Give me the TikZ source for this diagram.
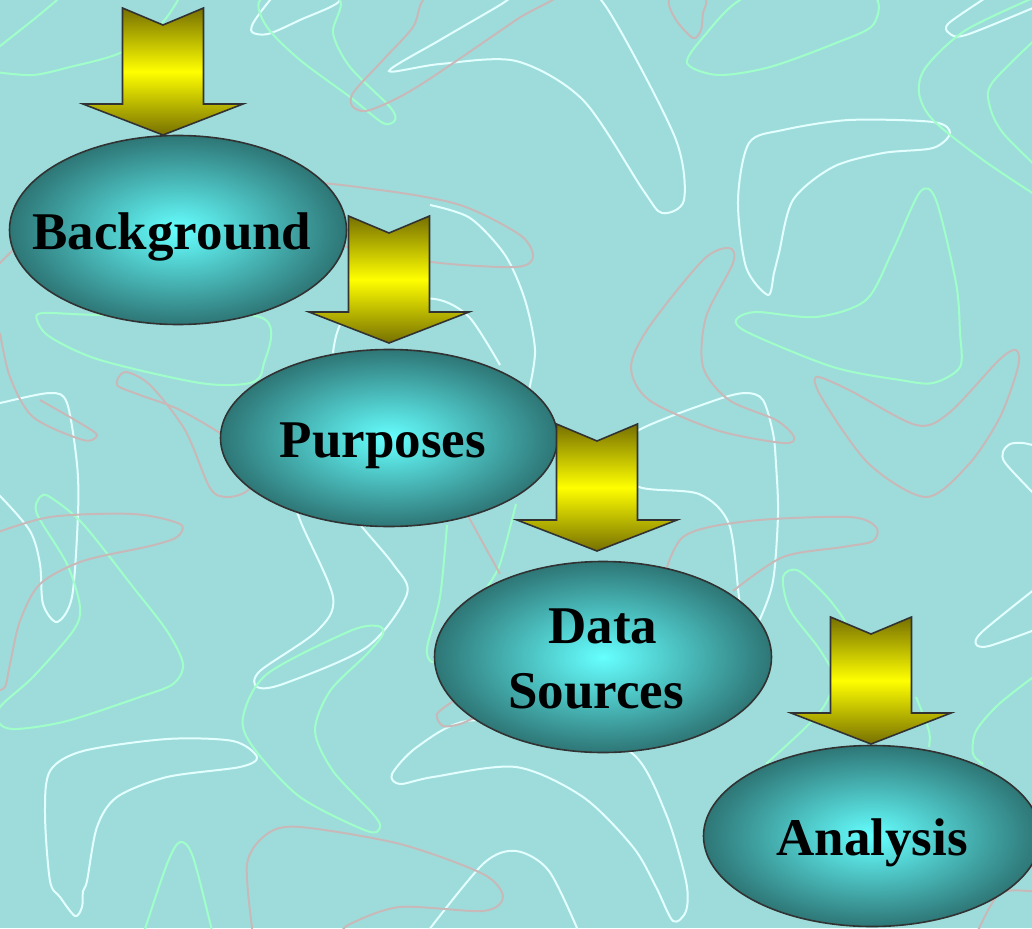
\documentclass[tikz,border=0pt]{standalone}
\usepackage{fontspec}
\setmainfont{Liberation Serif}
\usetikzlibrary{shapes.geometric}
\definecolor{bgc}{RGB}{158,220,220}
\definecolor{cyanc}{RGB}{102,255,255}
\definecolor{tealc}{RGB}{46,118,118}
\definecolor{olivec}{RGB}{118,112,0}
\definecolor{yelc}{RGB}{255,255,0}
\definecolor{wline}{RGB}{228,255,255}
\definecolor{gline}{RGB}{160,255,200}
\definecolor{pline}{RGB}{200,184,184}
\definecolor{edgec}{RGB}{50,50,50}
\begin{document}
\begin{tikzpicture}[x=1pt,y=-1pt,
  wl/.style={draw=wline,line width=2pt},
  gl/.style={draw=gline,line width=2pt},
  pl/.style={draw=pline,line width=2pt},
  stage/.style={ellipse, draw=edgec, line width=1.6pt, inner color=cyanc, outer color=tealc, inner sep=0pt},
  lbl/.style={font=\bfseries\fontsize{53}{65}\selectfont, anchor=base, inner sep=0pt},
  blockarrow/.pic={\draw[draw=edgec,line width=1.6pt,top color=olivec,bottom color=olivec,middle color=yelc]
     (-40.5,0) -- (0,17) -- (40.5,0) -- (40.5,96) -- (80,96) -- (0,127) -- (-80,96) -- (-40.5,96) -- cycle;}
]
\useasboundingbox (0,0) rectangle (1032,928);
\fill[bgc] (0,0) rectangle (1032,928);
\begin{scope}
\clip (0,0) rectangle (1032,928);
% white curves
\draw[wl] plot[smooth cycle] coordinates {(389,71) (440,64) (516,61) (583,100) (643,190) (662,213) (684,200) (676,140) (620,30) (590,-10) (540,-20) (500,5) (440,40)};
\draw[wl] plot[smooth cycle] coordinates {(280,-10) (255,20) (252,32) (268,34) (300,20) (340,0) (310,-20)};
\draw[wl] plot[smooth cycle] coordinates {(768,295) (746,267) (738,200) (749,143) (783,130) (849,120) (933,122) (950,133) (933,148) (883,153) (833,167) (793,200) (779,253) (774,273)};
\draw[wl] plot[smooth] coordinates {(990,-5) (949,23) (949,33) (966,35) (1040,5)};
\draw[wl] plot[smooth] coordinates {(-10,405) (0,403) (50,393) (67,403) (77,464) (78,514) (72,597) (57,622) (43,604) (40,564) (30,531) (0,496) (-10,490)};
\draw[wl] plot[smooth cycle] coordinates {(257,757) (240,767) (167,777) (117,797) (97,827) (87,881) (83,891) (82,907) (75,916) (60,897) (50,881) (45,814) (50,771) (83,751) (167,739) (233,741)};
\draw[wl] plot[smooth cycle] coordinates {(290,480) (300,520) (333,597) (317,631) (260,671) (257,687) (283,684) (367,647) (407,594) (393,564) (353,515) (340,480)};
\draw[wl] plot[smooth] coordinates {(425,935) (483,864) (516,851) (549,871) (580,935)};
\draw[wl] plot[smooth cycle] coordinates {(467,721) (417,747) (392,774) (400,784) (433,777) (516,767) (583,797) (633,847) (656,887) (673,921) (686,911) (686,881) (666,814) (633,754) (560,725)};
\draw[wl] plot[smooth cycle] coordinates {(639,430) (716,400) (746,393) (763,400) (773,433) (776,464) (778,514) (773,581) (759,621) (745,640) (739,597) (729,524) (699,494) (639,487) (610,460)};
\draw[wl] plot[smooth] coordinates {(1040,585) (983,631) (976,644) (989,646) (1040,628)};
\draw[wl] plot[smooth] coordinates {(1040,500) (1006,464) (1003,452) (1010,444) (1023,443) (1040,447)};
\draw[wl] plot[smooth] coordinates {(430,205) (470,218) (505,255) (525,300) (535,350) (529,390)};
\draw[wl] plot[smooth] coordinates {(333,353) (345,318) (400,300) (440,300) (470,318) (500,365)};
% green curves
\draw[gl] plot[smooth] coordinates {(-5,50) (33,20) (57,0) (65,-8)};
\draw[gl] plot[smooth] coordinates {(-5,72) (33,75) (70,67) (120,53) (160,25) (178,0)};
\draw[gl] plot[smooth cycle] coordinates {(260,0) (267,27) (300,60) (350,97) (383,123) (395,120) (390,107) (350,67) (333,33) (340,0) (300,-20)};
\draw[gl] plot[smooth cycle] coordinates {(687,63) (718,75) (770,67) (836,43) (873,25) (873,-5) (800,-20) (740,0) (705,35)};
\draw[gl] plot[smooth cycle] coordinates {(736,320) (756,312) (816,317) (866,300) (893,250) (920,192) (936,200) (956,283) (960,333) (960,367) (933,383) (900,380) (833,367) (749,333)};
\draw[gl] plot[smooth] coordinates {(1040,-5) (966,30) (926,67) (919,93) (933,120) (983,160) (1040,198)};
\draw[gl] plot[smooth] coordinates {(1040,35) (992,83) (990,107) (1003,133) (1040,170)};
\draw[gl] plot[smooth cycle] coordinates {(37,320) (43,313) (100,315) (260,317) (263,367) (250,383) (200,383) (100,360) (50,337)};
\draw[gl] plot[smooth cycle] coordinates {(40,497) (37,514) (67,564) (80,607) (73,631) (33,677) (0,707) (0,724) (17,729) (67,721) (140,697) (173,684) (183,664) (167,631) (133,587) (83,524) (50,497)};
\draw[gl] plot[smooth] coordinates {(143,935) (167,864) (180,842) (193,857) (213,935)};
\draw[gl] plot[smooth cycle] coordinates {(378,626) (350,631) (267,674) (243,717) (253,747) (300,797) (367,831) (380,827) (373,814) (333,771) (315,731) (330,691) (367,654) (383,634)};
\draw[gl] plot[smooth] coordinates {(447,525) (440,597) (427,648) (432,662) (445,655)};
\draw[gl] plot[smooth] coordinates {(516,504) (500,564) (487,587)};
\draw[gl] plot[smooth] coordinates {(766,764) (809,724) (829,697) (849,637) (833,604) (799,571) (783,577) (790,610) (820,650) (850,700)};
\draw[gl] plot[smooth] coordinates {(916,697) (929,731) (929,747)};
\draw[gl] plot[smooth] coordinates {(1040,672) (999,704) (976,731) (973,754) (983,764)};
% pink curves
\draw[pl] plot[smooth cycle] coordinates {(423,0) (413,27) (383,60) (353,93) (353,107) (370,110) (417,87) (516,20) (560,-10) (450,-20)};
\draw[pl] plot[smooth cycle] coordinates {(669,0) (676,20) (693,38) (701,30) (703,13) (706,0) (690,-10)};
\draw[pl] plot[smooth cycle] coordinates {(729,248) (703,260) (649,327) (631,367) (649,400) (716,430) (783,443) (794,437) (776,420) (729,400) (703,367) (706,317) (733,263)};
\draw[pl] plot[smooth cycle] coordinates {(816,377) (849,390) (916,425) (949,413) (999,360) (1016,350) (1018,367) (1000,417) (969,464) (926,497) (869,464) (823,400)};
\draw[pl] plot[smooth cycle] coordinates {(300,185) (380,190) (460,205) (520,235) (533,257) (516,267) (440,263) (360,250) (300,230)};
\draw[pl] plot[smooth] coordinates {(-5,268) (13,250) (25,240)};
\draw[pl] plot[smooth] coordinates {(0,333) (10,377) (33,417) (83,440) (97,435) (80,423) (40,400)};
\draw[pl] plot[smooth cycle] coordinates {(117,385) (125,372) (150,385) (185,430) (210,488) (227,497) (247,491) (260,470) (230,440) (180,410) (140,395)};
\draw[pl] plot[smooth] coordinates {(-10,535) (50,517) (133,514) (180,524) (177,537) (150,546) (83,561) (40,584) (20,621) (10,664) (5,687) (-5,691)};
\draw[pl] plot[smooth] coordinates {(253,935) (247,864) (267,834) (300,827) (400,844) (483,874) (503,897) (483,911) (400,907) (350,924) (340,935)};
\draw[pl] plot[smooth] coordinates {(660,590) (683,537) (749,521) (849,517) (876,527) (873,541) (843,547) (783,557) (733,591)};
\draw[pl] plot[smooth] coordinates {(467,514) (500,574)};
\draw[pl] plot[smooth] coordinates {(455,700) (437,714) (443,726) (460,724) (480,715)};
\draw[pl] plot[smooth] coordinates {(976,935) (999,894) (1032,891) (1040,891)};
\end{scope}
% stages
\node[stage, minimum width=337pt, minimum height=189pt] (bg) at (178,230) {};
\node[stage, minimum width=337pt, minimum height=177pt] (pu) at (389,438) {};
\node[stage, minimum width=337pt, minimum height=191pt] (ds) at (603,657) {};
\node[stage, minimum width=337pt, minimum height=181pt] (an) at (872,836) {};
% arrows
\pic (arrA) at (163,8) {blockarrow};
\pic (arrB) at (389,216) {blockarrow};
\pic (arrC) at (597,424) {blockarrow};
\pic (arrD) at (871,617) {blockarrow};
% labels
\node[lbl] (t1) at ([xshift=-6pt,yshift=-19pt]bg.center) {Background};
\node[lbl] (t2) at ([xshift=-6pt,yshift=-19pt]pu.center) {Purposes};
\node[lbl] (t3) at ([yshift=14pt]ds.center) {Data};
\node[lbl] (t4) at ([xshift=-7pt,yshift=-51pt]ds.center) {Sources};
\node[lbl] (t5) at ([yshift=-19pt]an.center) {Analysis};
\end{tikzpicture}
\end{document}
